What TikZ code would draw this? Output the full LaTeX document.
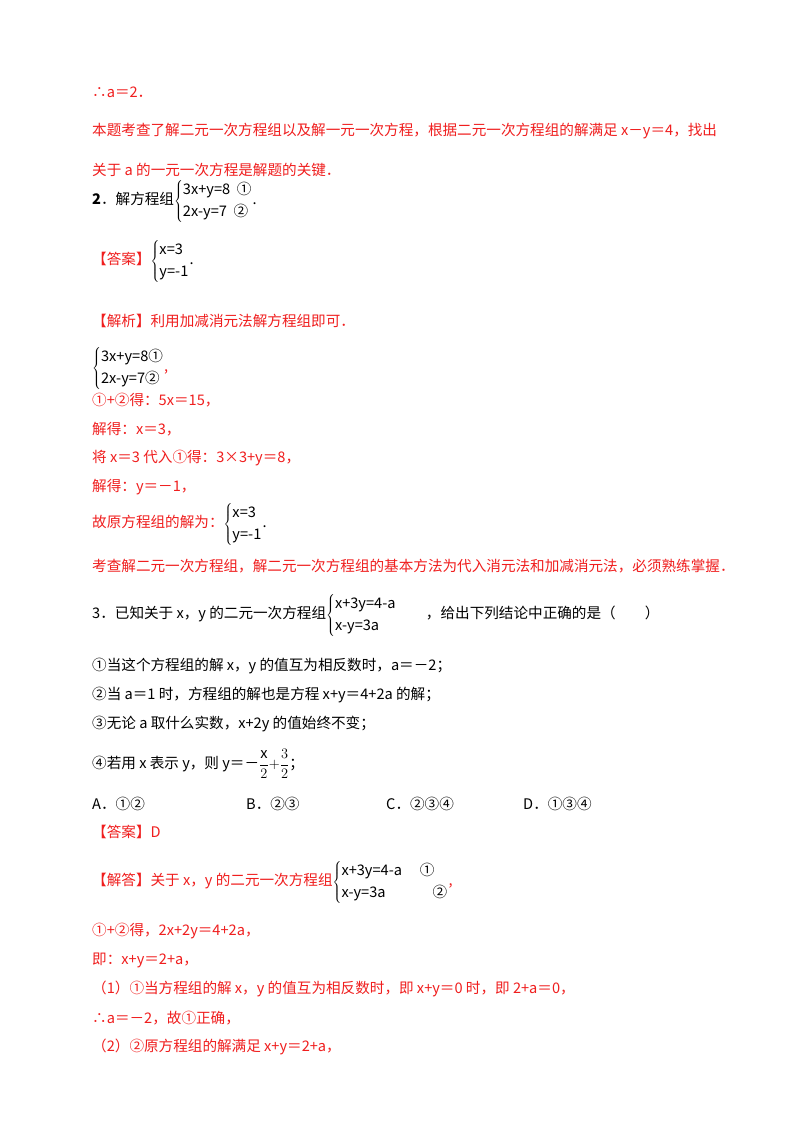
\documentclass[tikz,border=0pt]{standalone}
\usepackage{fontspec}
\setmainfont{Noto Sans CJK SC}
\usepackage{array}
\definecolor{rd}{RGB}{240,30,30}
\newcommand{\mysys}[2]{$\left\{\renewcommand{\arraystretch}{1.3}\begin{tabular}{@{}l@{}}#1\\#2\end{tabular}\right.$}
\newcommand{\iv}[1]{\textit{#1}}
\begin{document}
\begin{tikzpicture}[x=1pt,y=-1pt,
  txt/.style={anchor=west,inner sep=0pt,font=\fontsize{14.6}{17}\selectfont},
  red/.style={txt,text=rd}]
\useasboundingbox (0,0) rectangle (800,1132);
\fill[white] (0,0) rectangle (800,1132);
\node[red] (l1) at (92,92) {∴\iv{a}＝2．};
\node[red] (l2) at (92,131) {本题考查了解二元一次方程组以及解一元一次方程，根据二元一次方程组的解满足 \iv{x}－\iv{y}＝4，找出};
\node[red] (l3) at (92,170) {关于 \iv{a} 的一元一次方程是解题的关键．};
\node[txt] (q2) at (92,201) {\textbf{2}．解方程组\mysys{3x+y=8 \ ①}{2x-y=7 \ ②}.};
\node[red] (ans2) at (92,261) {【答案】\color{black}\mysys{x=3}{y=-1}.};
\node[red] (ana2) at (92,321) {【解析】利用加减消元法解方程组即可．};
\node[txt] (s2) at (92,368) {\mysys{3x+y=8①}{2x-y=7②}\textcolor{rd}{,}};
\node[red] (l5) at (92,400) {①+②得：5\iv{x}＝15，};
\node[red] (l6) at (92,429) {解得：\iv{x}＝3，};
\node[red] (l7) at (92,458) {将 \iv{x}＝3 代入①得：3×3+\iv{y}＝8，};
\node[red] (l8) at (92,487) {解得：\iv{y}＝－1，};
\node[red] (l9) at (92,524) {故原方程组的解为：\color{black}\mysys{x=3}{y=-1}.};
\node[red] (l10) at (92,566) {考查解二元一次方程组，解二元一次方程组的基本方法为代入消元法和加减消元法，必须熟练掌握．};
\node[txt] (q3) at (92,615) {3．已知关于 \iv{x}，\iv{y} 的二元一次方程组\mysys{x+3y=4-a}{x-y=3a}\qquad，给出下列结论中正确的是（\qquad）};
\node[txt] (c1) at (92,666) {①当这个方程组的解 \iv{x}，\iv{y} 的值互为相反数时，\iv{a}＝－2；};
\node[txt] (c2) at (92,695) {②当 \iv{a}＝1 时，方程组的解也是方程 \iv{x}+\iv{y}＝4+2\iv{a} 的解；};
\node[txt] (c3) at (92,724) {③无论 \iv{a} 取什么实数，\iv{x}+2\iv{y} 的值始终不变；};
\node[txt] (c4) at (92,764) {④若用 \iv{x} 表示 \iv{y}，则 \iv{y}＝－$\displaystyle\frac{\mathrm{x}}{2}{+}\frac{3}{2}$；};
\node[txt] (opA) at (92,804) {A．①②};
\node[txt] (opB) at (246,804) {B．②③};
\node[txt] (opC) at (386,804) {C．②③④};
\node[txt] (opD) at (523,804) {D．①③④};
\node[red] (ans3) at (92,832) {【答案】\iv{D}};
\node[red] (jd) at (92,882) {【解答】关于 \iv{x}，\iv{y} 的二元一次方程组\color{black}\mysys{x+3y=4-a \quad ①}{x-y=3a \qquad\quad ②}\textcolor{rd}{,}};
\node[red] (m1) at (92,931) {①+②得，2\iv{x}+2\iv{y}＝4+2\iv{a}，};
\node[red] (m2) at (92,960) {即：\iv{x}+\iv{y}＝2+\iv{a}，};
\node[red] (m3) at (92,989) {（1）①当方程组的解 \iv{x}，\iv{y} 的值互为相反数时，即 \iv{x}+\iv{y}＝0 时，即 2+\iv{a}＝0，};
\node[red] (m4) at (92,1018) {∴\iv{a}＝－2，故①正确，};
\node[red] (m5) at (92,1047) {（2）②原方程组的解满足 \iv{x}+\iv{y}＝2+\iv{a}，};
\end{tikzpicture}
\end{document}
